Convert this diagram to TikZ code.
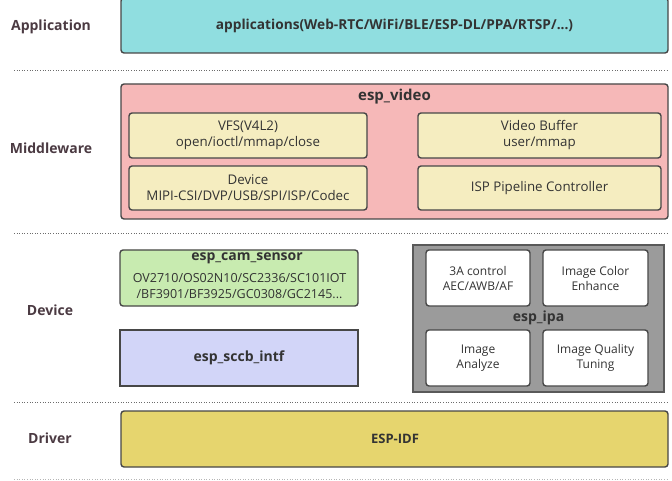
\documentclass[tikz,border=0pt]{standalone}
\usepackage{fontspec}
\setmainfont{Open Sans}
\definecolor{appfill}{HTML}{90DEE0}
\definecolor{vidfill}{HTML}{F6B8B8}
\definecolor{subfill}{HTML}{F5EDC0}
\definecolor{camfill}{HTML}{C8EBB0}
\definecolor{sccbfill}{HTML}{D2D5F8}
\definecolor{ipafill}{HTML}{9B9B9B}
\definecolor{idffill}{HTML}{E6D56E}
\definecolor{edge}{HTML}{474747}
\definecolor{labcol}{HTML}{4B3A42}
\definecolor{txtcol}{HTML}{333333}
\tikzset{
  x=1pt, y=-1pt,
  layer/.style={font=\fontsize{14}{16}\selectfont\bfseries, text=labcol, anchor=center},
  blk/.style={draw=edge, line width=1.4pt, rounded corners=3pt},
  btxt/.style={font=\fontsize{13.7}{16}\selectfont\bfseries, text=txtcol, align=center},
  ntxt/.style={font=\fontsize{13.3}{16}\selectfont, text=txtcol, align=center},
  stxt/.style={font=\fontsize{12}{15}\selectfont, text=txtcol, align=center},
  sep/.style={draw=edge!80, line width=1pt, dash pattern=on 1pt off 1.6pt},
}
\begin{document}
\begin{tikzpicture}
\useasboundingbox (0,0) rectangle (672,481);
% separators
\coordinate (s1a) at (14,71);  \coordinate (s1b) at (668,71);
\coordinate (s2a) at (14,234); \coordinate (s2b) at (668,234);
\coordinate (s3a) at (14,402); \coordinate (s3b) at (668,402);
\coordinate (s4a) at (14,479); \coordinate (s4b) at (668,479);
\draw[sep] (s1a) -- (s1b);
\draw[sep] (s2a) -- (s2b);
\draw[sep] (s3a) -- (s3b);
\draw[sep, draw=edge!40] (s4a) -- (s4b);
% layer labels
\node[layer] (lapp) at (51,27) {Application};
\node[layer] (lmid) at (51,148) {Middleware};
\node[layer] (ldev) at (50,310) {Device};
\node[layer] (ldrv) at (50,438) {Driver};
% application
\draw[blk, fill=appfill] (121,-2) rectangle (668,53);
\node[btxt] (app) at (394.5,26) {applications(Web-RTC/WiFi/BLE/ESP-DL/PPA/RTSP/...)};
% esp_video
\draw[blk, fill=vidfill] (121,84) rectangle (668,219);
\node[btxt, font=\fontsize{15}{17}\selectfont\bfseries] (vid) at (394.5,97) {esp\_video};
\draw[blk, fill=subfill] (129,113) rectangle (367,158);
\node[ntxt] (vfs) at (248,135.5) {VFS(V4L2)\\open/ioctl/mmap/close};
\draw[blk, fill=subfill] (418,113) rectangle (661,158);
\node[ntxt] (vbuf) at (539.5,135.5) {Video Buffer\\user/mmap};
\draw[blk, fill=subfill] (129,166) rectangle (367,210);
\node[ntxt] (vdev) at (248,188) {Device\\MIPI-CSI/DVP/USB/SPI/ISP/Codec};
\draw[blk, fill=subfill] (418,166) rectangle (661,210);
\node[ntxt] (isp) at (539.5,188) {ISP Pipeline Controller};
% esp_cam_sensor
\draw[blk, fill=camfill] (120,250) rectangle (358,306);
\node[btxt, font=\fontsize{14}{16}\selectfont\bfseries] (cam) at (247,258) {esp\_cam\_sensor};
\node[stxt, font=\fontsize{12.5}{16.5}\selectfont] (camlist) at (239.5,286) {OV2710/OS02N10/SC2336/SC101IOT\\/BF3901/BF3925/GC0308/GC2145...};
% esp_sccb_intf
\draw[draw=edge, line width=1.4pt, fill=sccbfill] (120,330) rectangle (358,386);
\node[btxt, font=\fontsize{14}{16}\selectfont\bfseries] (sccb) at (239,358) {esp\_sccb\_intf};
% esp_ipa
\draw[draw=edge!90, line width=1.4pt, fill=ipafill] (413,245) rectangle (664,392);
\node[btxt, font=\fontsize{14}{16}\selectfont\bfseries] (ipa) at (538.5,318) {esp\_ipa};
\draw[blk, fill=white] (426,250) rectangle (530,306);
\node[stxt] (a3) at (478,278) {3A control\\AEC/AWB/AF};
\draw[blk, fill=white] (543,250) rectangle (648,306);
\node[stxt] (icol) at (595.5,278) {Image Color\\Enhance};
\draw[blk, fill=white] (426,330) rectangle (530,386);
\node[stxt] (ian) at (478,358) {Image\\Analyze};
\draw[blk, fill=white] (543,330) rectangle (648,386);
\node[stxt] (iqt) at (595.5,358) {Image Quality\\Tuning};
% ESP-IDF
\draw[blk, fill=idffill] (121,411) rectangle (668,467);
\node[btxt, font=\fontsize{13}{16}\selectfont\bfseries] (idf) at (395,439) {ESP-IDF};
\end{tikzpicture}
\end{document}
